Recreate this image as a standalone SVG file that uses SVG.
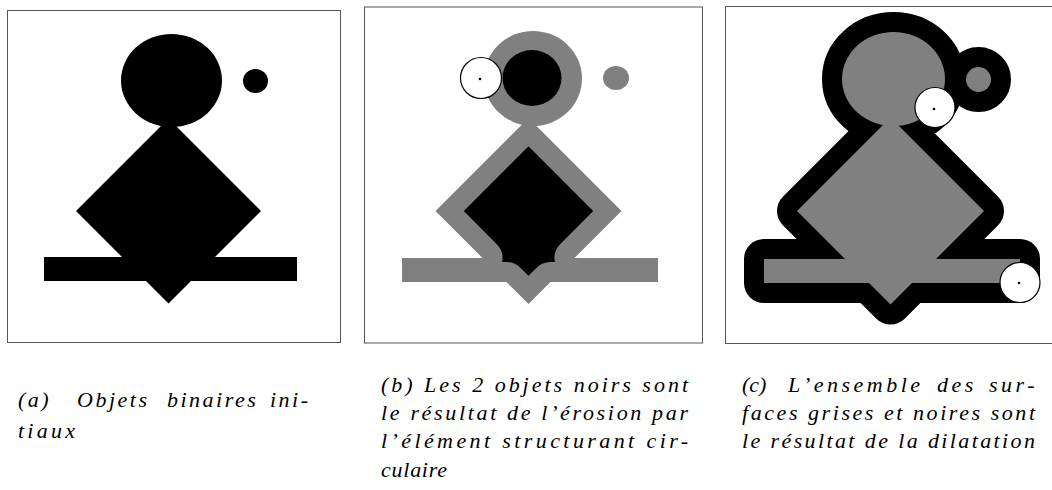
<svg xmlns="http://www.w3.org/2000/svg" width="1052" height="490" viewBox="0 0 1052 490">
<style>
.frame{fill:none;stroke:#555;stroke-width:1}
.blk{fill:#000}
.gry{fill:#808080}
.dil{fill:#000;stroke:#000;stroke-width:40;stroke-linejoin:round}
.se{fill:#fff;stroke:#000;stroke-width:1.2}
.dot{fill:#000}
.cap{font-family:"Liberation Serif","Times New Roman",serif;font-style:italic;font-size:22px;fill:#000}
</style>
<rect width="1052" height="490" fill="#fff"/>

<g id="panel-a">
  <rect class="frame" x="7.5" y="10.5" width="333" height="332"/>
  <ellipse class="blk" cx="171.5" cy="80.5" rx="50.5" ry="46.5"/>
  <ellipse class="blk" cx="255.5" cy="81" rx="12.5" ry="12"/>
  <polygon class="blk" points="168.5,118.5 261,211 168.5,303.5 76,211"/>
  <rect class="blk" x="44" y="257" width="253" height="24"/>
</g>

<g id="panel-b">
  <rect class="frame" x="364.5" y="7" width="338" height="336"/>
  <ellipse class="gry" cx="533" cy="78.5" rx="49" ry="47.5"/>
  <ellipse class="gry" cx="616" cy="78" rx="13" ry="12"/>
  <polygon class="gry" points="528.5,118 621.5,211 528.5,304 435.5,211"/>
  <rect class="gry" x="402" y="258" width="256" height="24"/>
  <ellipse class="blk" cx="532" cy="78" rx="29.5" ry="28"/>
  <path class="blk" d="M528.5,146.3 L593.2,211 L560.4,243.9 A20,20 0 0 0 554.9,262 L550.5,262 A20,20 0 0 0 536.4,267.9 L528.5,275.7 L520.6,267.9 A20,20 0 0 0 506.5,262 L502.1,262 A20,20 0 0 0 496.6,243.9 L463.8,211 Z"/>
  <circle class="se" cx="481" cy="78" r="20.5"/>
  <circle class="dot" cx="480" cy="79" r="1.3"/>
</g>

<g id="panel-c">
  <rect class="frame" x="725.5" y="6.5" width="340" height="337"/>
  <ellipse class="dil" cx="893.5" cy="79" rx="51.5" ry="47"/>
  <circle class="dil" cx="978.5" cy="79.5" r="12.5"/>
  <polygon class="dil" points="890.5,117.5 984,211 890.5,304.5 797,211"/>
  <rect class="dil" x="764" y="259" width="256" height="24"/>
  <ellipse class="gry" cx="893.5" cy="79" rx="51.5" ry="47"/>
  <circle class="gry" cx="978.5" cy="79.5" r="12.5"/>
  <polygon class="gry" points="890.5,117.5 984,211 890.5,304.5 797,211"/>
  <rect class="gry" x="764" y="259" width="256" height="24"/>
  <circle class="se" cx="935" cy="107.5" r="20"/>
  <circle class="dot" cx="934" cy="109" r="1.3"/>
  <circle class="se" cx="1020" cy="282.5" r="20"/>
  <circle class="dot" cx="1019" cy="283" r="1.3"/>
</g>

<g id="captions">
  <text class="cap" y="407" letter-spacing="2.5"><tspan x="18">(a)</tspan><tspan x="77">Objets</tspan><tspan x="167">binaires</tspan><tspan x="270">ini-</tspan></text>
  <text class="cap" x="18" y="438" textLength="57" lengthAdjust="spacing">tiaux</text>

  <text class="cap" x="381" y="392" textLength="307" lengthAdjust="spacing">(b) Les 2 objets noirs sont</text>
  <text class="cap" x="381" y="420" textLength="307" lengthAdjust="spacing">le résultat de l’érosion par</text>
  <text class="cap" x="381" y="448" textLength="307" lengthAdjust="spacing">l’élément structurant cir-</text>
  <text class="cap" x="381" y="477" textLength="66" lengthAdjust="spacing">culaire</text>

  <text class="cap" y="392" letter-spacing="3.5"><tspan x="742" letter-spacing="0">(c)</tspan><tspan x="788">L’ensemble</tspan><tspan x="937">des</tspan><tspan x="989">sur-</tspan></text>
  <text class="cap" x="742" y="420" textLength="293" lengthAdjust="spacing">faces grises et noires sont</text>
  <text class="cap" x="742" y="448" textLength="293" lengthAdjust="spacing">le résultat de la dilatation</text>
</g>
</svg>
